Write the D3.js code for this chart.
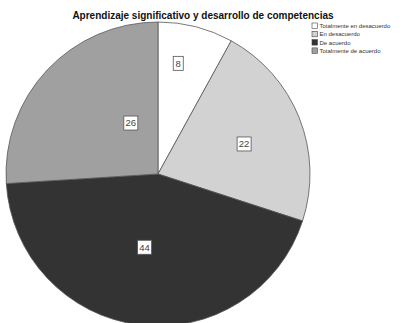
<!DOCTYPE html>
<html><head><meta charset="utf-8">
<script src="https://cdn.jsdelivr.net/npm/d3@7"></script>
<style>body{margin:0;background:#fff}svg{display:block}</style>
</head><body>
<script>
const categories = ["Totalmente en desacuerdo","En desacuerdo","De acuerdo","Totalmente de acuerdo"];
const values = [8, 22, 44, 26];
const colors = ["#ffffff","#d2d2d2","#333333","#a0a0a0"];
const titleText = "Aprendizaje significativo y desarrollo de competencias";
// label placement within each slice: fraction of slice angle, fraction of radius
const labelAngleFrac = [0.36, 0.53, 0.52, 0.70];
const labelRadFrac = [0.74, 0.60, 0.49, 0.38];

const W = 404, H = 323;
const svg = d3.select("body").append("svg").attr("width", W).attr("height", H);
const cx = 158, cy = 174, R = 152;

const pie = d3.pie().sort(null).value(d => d).startAngle(0).endAngle(2*Math.PI);
const arcs = pie(values);
const arc = d3.arc().innerRadius(0).outerRadius(R);
const g = svg.append("g").attr("transform", `translate(${cx},${cy})`);
g.selectAll("path").data(arcs).enter().append("path")
  .attr("d", arc).attr("fill", (d,i) => colors[i])
  .attr("stroke", "#555").attr("stroke-width", 0.8);

arcs.forEach((d,i) => {
  const a = d.startAngle + (d.endAngle - d.startAngle) * labelAngleFrac[i];
  const r = R * labelRadFrac[i];
  const x = r * Math.sin(a), y = -r * Math.cos(a);
  const lg = g.append("g").attr("transform", `translate(${x},${y})`);
  const txt = String(values[i]);
  const w = txt.length > 1 ? 14 : 10;
  lg.append("rect").attr("x", -w/2).attr("y", -7).attr("width", w).attr("height", 14)
    .attr("fill", "#fff").attr("stroke", "#555").attr("stroke-width", 0.8);
  lg.append("text").attr("text-anchor","middle").attr("dy","0.36em")
    .attr("font-family","Liberation Sans, Arial, sans-serif").attr("font-size", 9.5)
    .attr("fill","#444").text(txt);
});

svg.append("text").attr("x", 203).attr("y", 19).attr("text-anchor","middle")
  .attr("font-family","Liberation Sans, Arial, sans-serif").attr("font-weight","bold")
  .attr("font-size", 10).attr("fill","#111").text(titleText);

const leg = svg.append("g").attr("transform", "translate(312,23)");
categories.forEach((c,i) => {
  const row = leg.append("g").attr("transform", `translate(0,${i*8.3})`);
  row.append("rect").attr("width", 5.5).attr("height", 5.5).attr("fill", colors[i])
    .attr("stroke", "#444").attr("stroke-width", 0.6);
  row.append("text").attr("x", 7.5).attr("y", 5.2).attr("font-family","Liberation Sans, Arial, sans-serif")
    .attr("font-size", 6).attr("fill","#333").text(c);
});
</script>
</body></html>
